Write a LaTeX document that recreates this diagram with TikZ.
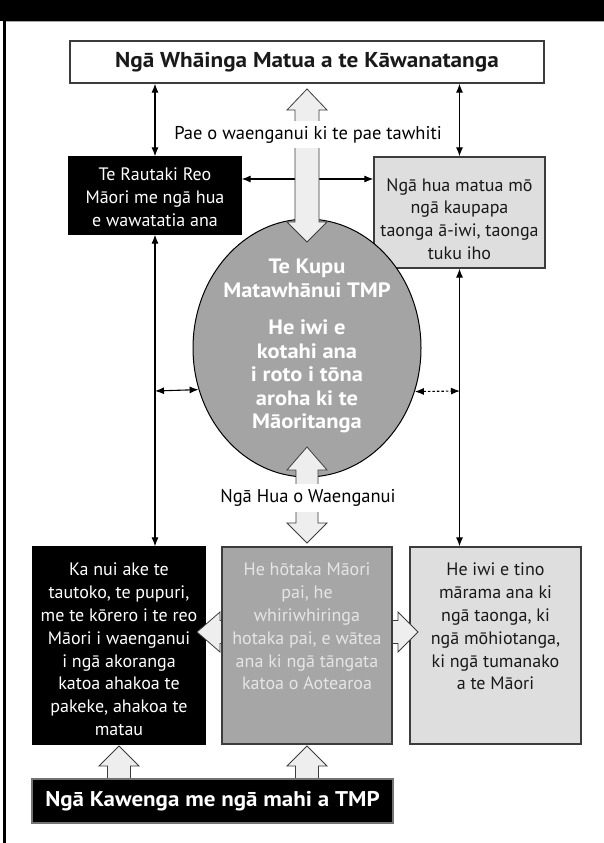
\documentclass[tikz,border=0pt]{standalone}
\usepackage{fontspec}
\setmainfont{PT Sans}
\newfontfamily\widesans[FakeStretch=1.08]{PT Sans}
\usetikzlibrary{shapes.geometric,arrows.meta,calc}
\definecolor{lightbg}{HTML}{DEDEDE}
\definecolor{midbg}{HTML}{A6A6A6}
\definecolor{ellbg}{HTML}{A4A4A4}
\definecolor{arrbg}{HTML}{EEEEEE}
\definecolor{edge}{HTML}{3C3C3C}
\begin{document}
\begin{tikzpicture}[x=1pt,y=-1pt,
  >={Latex[length=9pt,width=7pt]},
  conn/.style={line width=1.1pt, black},
  boxbase/.style={inner sep=0pt, line width=1.2pt},
  whitebox/.style={boxbase, draw=edge, fill=white},
  darkbox/.style={boxbase, draw=black, fill=black},
  lightbox/.style={boxbase, draw=edge, fill=lightbg},
  midbox/.style={boxbase, draw=edge, fill=midbg},
  botbox/.style={boxbase, draw=black!55, fill=black},
  blk/.style={fill=arrbg, draw=edge, line width=0.8pt, line join=miter},
  regtxt/.style={inner sep=0pt, align=center, font=\fontsize{18}{22.8}\selectfont},
  boldtxt/.style={inner sep=0pt, align=center, font=\widesans\bfseries\fontsize{20.8}{23.5}\selectfont},
  lbl/.style={fill=white, inner xsep=3pt, inner ysep=5pt, font=\fontsize{18.5}{22}\selectfont}
]
\useasboundingbox (0,0) rectangle (604,843);
\fill[white] (0,0) rectangle (604,843);
\fill[black] (0,0) rectangle (604,21);
\draw[black!35, line width=1pt] (6,21.5) -- (604,21.5);
\fill[black] (3,0) rectangle (6,843);

% top box
\node[whitebox, minimum width=474pt, minimum height=42pt, text=black!90,
      font=\widesans\bfseries\fontsize{21.5}{24}\selectfont] (top) at (307,62) {Ngā Whāinga Matua a te Kāwanatanga};

% upper boxes
\node[darkbox, minimum width=172pt, minimum height=77pt] (b1) at (155,195.5) {};
\node[lightbox, minimum width=171pt, minimum height=111pt] (b2) at (459.5,212.5) {};

% connectors
\draw[conn,<->] (top.south -| b1.north) -- (b1.north);
\draw[conn,<->] (top.south -| b2.north) -- (b2.north);
\draw[conn,<->] ([yshift=16.5pt]b1.east) -- ([yshift=16.5pt]b1.east -| b2.west);

% ellipse
\node[ellipse, draw=black, line width=1pt, fill=ellbg, minimum width=228pt, minimum height=258pt, inner sep=0pt] (ell) at (307,348) {};

% lower boxes
\node[darkbox, minimum width=172pt, minimum height=197pt] (b3) at (119,645.5) {};
\node[lightbox, minimum width=171pt, minimum height=197pt] (b5) at (495.5,645.5) {};

\draw[conn,<->] (b1.south) -- (b1.south |- b3.north);
\draw[conn,<->] (b2.south) -- (b2.south |- b5.north);
\coordinate (lj) at (155,391);
\coordinate (rj) at (460,391);
\draw[conn,<->] (lj) -- (ell.201.8);
\draw[conn,<->, dash pattern=on 2.5pt off 2pt] (ell.338.2) -- (rj);

% big double arrows
\draw[blk] (307,89) -- (327,110) -- (319,110) -- (319,222) -- (327,222) -- (307,242) -- (287,222) -- (295,222) -- (295,110) -- (287,110) -- cycle;
\draw[blk] (307,447) -- (327,470) -- (318,470) -- (318,523) -- (327,523) -- (307,543) -- (287,523) -- (296,523) -- (296,470) -- (287,470) -- cycle;

\node[lbl] (lab1) at (308,134.5) {Pae o waenganui ki te pae tawhiti};
\node[lbl] (lab2) at (308,498) {Ngā Hua o Waenganui};

% side block arrows around middle box
\draw[blk] (197,632) -- (220,612) -- (220,620.5) -- (226,620.5) -- (226,643.5) -- (220,643.5) -- (220,652) -- cycle;
\draw[blk] (418,632) -- (398,612) -- (398,620.5) -- (388,620.5) -- (388,643.5) -- (398,643.5) -- (398,652) -- cycle;
\node[midbox, minimum width=170pt, minimum height=197pt] (b4) at (307,645.5) {};

% bottom block arrows
\draw[blk] (119,746) -- (139,766) -- (130.5,766) -- (130.5,782) -- (107.5,782) -- (107.5,766) -- (99,766) -- cycle;
\draw[blk] (307,746) -- (327,766) -- (318.5,766) -- (318.5,782) -- (295.5,782) -- (295.5,766) -- (287,766) -- cycle;
\node[botbox, minimum width=361pt, minimum height=44pt, text=white,
      font=\widesans\bfseries\fontsize{21.3}{24}\selectfont] (bot) at (212.5,801) {Ngā Kawenga me ngā mahi a TMP};

% texts
\node[regtxt, text=white, anchor=north] (b1t) at (155,168) {Te Rautaki Reo\\Māori me ngā hua\\e wawatatia ana};
\node[regtxt, text=black!90, anchor=north] (b2t) at (459.5,178) {Ngā hua matua mō\\ngā kaupapa\\taonga ā-iwi, taonga\\tuku iho};
\node[boldtxt, text=white, anchor=north] (ellt) at (307,259) {Te Kupu\\Matawhānui TMP\\[14pt]He iwi e\\kotahi ana\\i roto i tōna\\aroha ki te\\Māoritanga};
\node[regtxt, text=white, anchor=north] (b3t) at (119,563) {Ka nui ake te\\tautoko, te pupuri,\\me te kōrero i te reo\\Māori i waenganui\\i ngā akoranga\\katoa ahakoa te\\pakeke, ahakoa te\\matau};
\node[regtxt, text=white!90!black, anchor=north] (b4t) at (307,563) {He hōtaka Māori\\pai, he\\whiriwhiringa\\hotaka pai, e wātea\\ana ki ngā tāngata\\katoa o Aotearoa};
\node[regtxt, text=black!90, anchor=north] (b5t) at (495.5,563) {He iwi e tino\\mārama ana ki\\ngā taonga, ki\\ngā mōhiotanga,\\ki ngā tumanako\\a te Māori};
\end{tikzpicture}
\end{document}
